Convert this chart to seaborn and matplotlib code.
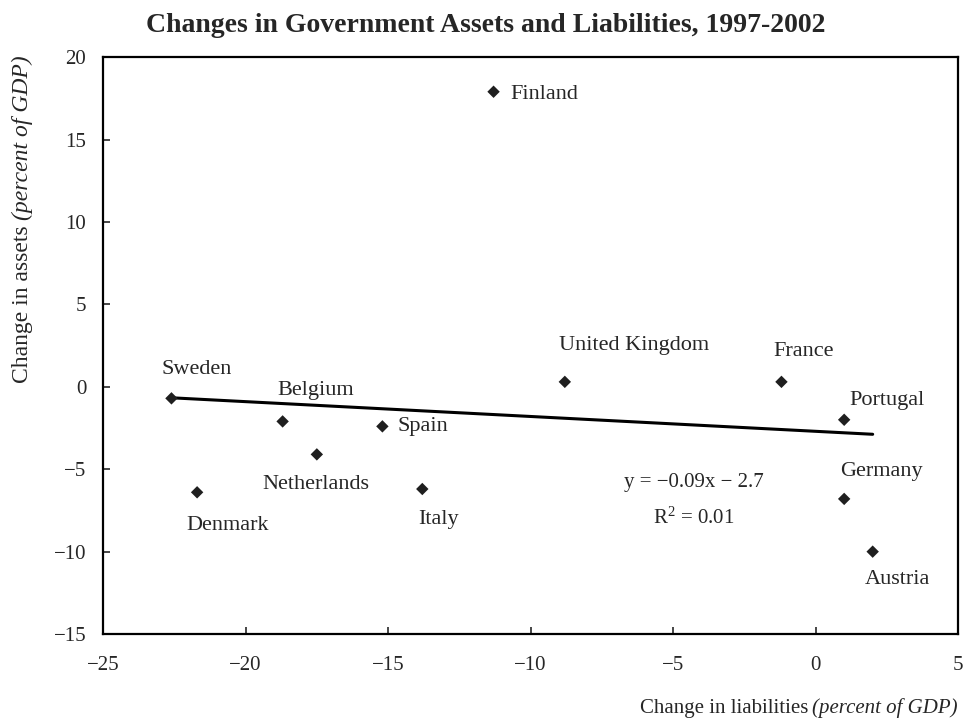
import numpy as np
import pandas as pd
import seaborn as sns
import matplotlib.pyplot as plt

# data (percent of GDP)
countries = ["Sweden", "Denmark", "Belgium", "Netherlands", "Spain", "Italy",
             "Finland", "United Kingdom", "France", "Portugal", "Germany", "Austria"]
liabilities = [-22.6, -21.7, -18.7, -17.5, -15.2, -13.8, -11.3, -8.8, -1.2, 1.0, 1.0, 2.0]
assets = [-0.7, -6.4, -2.1, -4.1, -2.4, -6.2, 17.9, 0.3, 0.3, -2.0, -6.8, -10.0]

# trend line as printed on the chart
slope = -0.09
intercept = -2.7
r_squared = 0.01

x_ticks = [-25, -20, -15, -10, -5, 0, 5]
y_ticks = [-15, -10, -5, 0, 5, 10, 15, 20]

# label placement (offset in points, horizontal alignment)
label_pos = {
    "Sweden": (18, 21, "center"),
    "Denmark": (22, -24, "center"),
    "Belgium": (24, 22, "center"),
    "Netherlands": (-1, -22, "center"),
    "Spain": (11, 0, "left"),
    "Italy": (12, -22, "center"),
    "Finland": (12, -2, "left"),
    "United Kingdom": (50, 26, "center"),
    "France": (16, 22, "center"),
    "Portugal": (31, 14, "center"),
    "Germany": (27, 20, "center"),
    "Austria": (18, -20, "center"),
}

df = pd.DataFrame({"country": countries, "liab": liabilities, "assets": assets})

sns.set_style("ticks")
plt.rcParams["font.family"] = ["Liberation Serif", "DejaVu Serif"]
plt.rcParams["mathtext.fontset"] = "custom"
plt.rcParams["mathtext.rm"] = "Liberation Serif"
plt.rcParams["mathtext.it"] = "Liberation Serif:italic"

W, H = 963, 723
fs = 15
fig = plt.figure(figsize=(W / 100, H / 100), dpi=100)
ax = fig.add_axes([0.107, 0.123, 0.888, 0.798])

# fitted line over the range of the data
fit_x = np.array([df["liab"].min(), df["liab"].max()])
fit = pd.DataFrame({"x": fit_x, "y": slope * fit_x + intercept})
sns.lineplot(data=fit, x="x", y="y", color="black", linewidth=2.2, ax=ax)

sns.scatterplot(data=df, x="liab", y="assets", marker="D", s=40,
                color="#1f1f1f", edgecolor="none", ax=ax, zorder=3)

for _, row in df.iterrows():
    dx, dy, ha = label_pos[row["country"]]
    ax.annotate(row["country"], (row["liab"], row["assets"]),
                xytext=(dx, dy), textcoords="offset points",
                ha=ha, va="center", fontsize=16)

ax.text(0.691, 0.262, "y = \u22120.09x \u2212 2.7", transform=ax.transAxes,
        ha="center", va="center", fontsize=fs)
ax.text(0.691, 0.201, f"R$^\\mathrm{{2}}$ = {r_squared:.2f}", transform=ax.transAxes,
        ha="center", va="center", fontsize=fs)

ax.set_xlim(-25, 5)
ax.set_ylim(-15, 20)
ax.set_xticks(x_ticks)
ax.set_yticks(y_ticks)
ax.set_xlabel("")
ax.set_ylabel("")
ax.tick_params(direction="in", length=5, width=1.2, labelsize=fs)
ax.tick_params(axis="x", pad=16)
ax.tick_params(axis="y", pad=12)
for sp in ax.spines.values():
    sp.set_linewidth(1.6)
    sp.set_color("black")

fig.text(486 / W, 1 - 25 / H, "Changes in Government Assets and Liabilities, 1997-2002",
         fontsize=20, fontweight="bold", ha="center", va="center")

# axis titles: upright part + italic part, laid out by measuring the text
renderer = fig.canvas.get_renderer()

x_it = fig.text(958 / W, 1 - 713 / H, "(percent of GDP)", style="italic",
                fontsize=fs, ha="right", va="baseline")
w_it = x_it.get_window_extent(renderer).width
fig.text((958 - w_it - 4) / W, 1 - 713 / H, "Change in liabilities",
         fontsize=fs, ha="right", va="baseline")

y_lbl = fig.text(28 / W, 1 - 383 / H, "Change in assets", fontsize=17,
                 rotation=90, rotation_mode="anchor", ha="left", va="baseline")
h_lbl = y_lbl.get_window_extent(renderer).height
fig.text(28 / W, 1 - (383 - h_lbl - 5) / H, "(percent of GDP)", style="italic",
         fontsize=17, rotation=90, rotation_mode="anchor", ha="left", va="baseline")

fig.savefig("out.png", dpi=100)
